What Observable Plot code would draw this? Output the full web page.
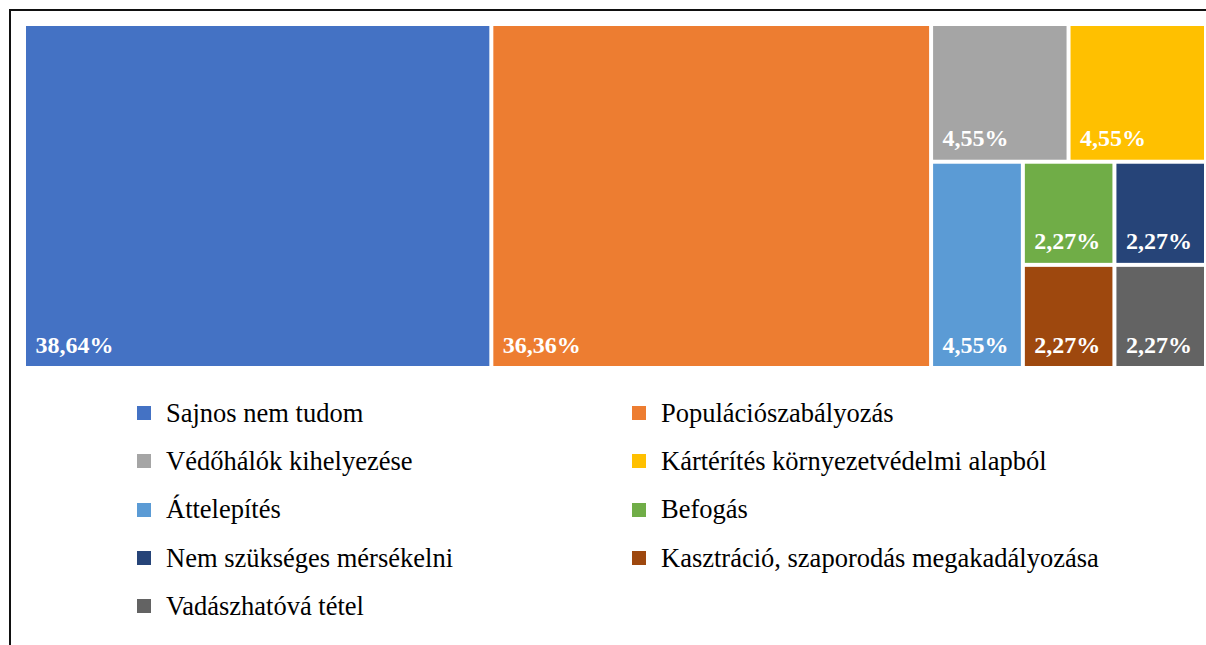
<!DOCTYPE html>
<html>
<head>
<meta charset="utf-8">
<script src="https://cdn.jsdelivr.net/npm/d3@7"></script>
<script src="https://cdn.jsdelivr.net/npm/@observablehq/plot@0.6"></script>
<style>
  html, body { margin: 0; padding: 0; background: #fff; }
  body { width: 1206px; height: 645px; position: relative; overflow: hidden; font-family: "Liberation Serif", "Times New Roman", serif; }
  #frame { position: absolute; left: 9px; top: 9px; width: 1400px; height: 800px; border-left: 2px solid #111; border-top: 2px solid #111; box-sizing: border-box; }
  #chart { position: absolute; left: 0; top: 0; }
  #chart svg text { font-family: "Liberation Serif", "Times New Roman", serif !important; }
  #legend { position: absolute; left: 137px; top: 389px; display: grid; grid-template-columns: 495px 495px; grid-auto-rows: 48.3px; }
  .item { display: flex; align-items: center; font-size: 26.5px; color: #000; white-space: nowrap; }
  .sw { width: 14px; height: 14px; margin-right: 15px; flex: none; }
</style>
</head>
<body>
<div id="frame"></div>
<div id="chart"></div>
<div id="legend"></div>
<script>
// Data
const categories = [
  "Sajnos nem tudom",
  "Populációszabályozás",
  "Védőhálók kihelyezése",
  "Kártérítés környezetvédelmi alapból",
  "Áttelepítés",
  "Befogás",
  "Nem szükséges mérsékelni",
  "Kasztráció, szaporodás megakadályozása",
  "Vadászhatóvá tétel"
];
const values = [38.64, 36.36, 4.55, 4.55, 4.55, 2.27, 2.27, 2.27, 2.27];
const colors = ["#4472C4", "#ED7D31", "#A5A5A5", "#FFC000", "#5B9BD5", "#70AD47", "#264478", "#9E480E", "#636363"];

const W = 1178, H = 340;

// squarified tiling (Excel-like preference)
function squarifyTile(ratio) {
  return function(parent, x0, y0, x1, y1) {
    const nodes = parent.children;
    let value = parent.value, i0 = 0, i1 = 0;
    const n = nodes.length;
    while (i0 < n) {
      const dx = x1 - x0, dy = y1 - y0;
      let sumValue;
      do sumValue = nodes[i1++].value; while (!sumValue && i1 < n);
      let minValue = sumValue, maxValue = sumValue;
      const alpha = Math.max(dy / dx, dx / dy) / (value * ratio);
      let beta = sumValue * sumValue * alpha;
      let minRatio = Math.max(maxValue / beta, beta / minValue);
      for (; i1 < n; ++i1) {
        const nodeValue = nodes[i1].value;
        sumValue += nodeValue;
        if (nodeValue < minValue) minValue = nodeValue;
        if (nodeValue > maxValue) maxValue = nodeValue;
        beta = sumValue * sumValue * alpha;
        const newRatio = Math.max(maxValue / beta, beta / minValue);
        if (newRatio > minRatio) { sumValue -= nodeValue; break; }
        minRatio = newRatio;
      }
      const row = {value: sumValue, children: nodes.slice(i0, i1)};
      if (dx < dy) d3.treemapDice(row, x0, y0, x1, value ? (y0 += dy * sumValue / value) : y1);
      else d3.treemapSlice(row, x0, y0, value ? (x0 += dx * sumValue / value) : x1, y1);
      value -= sumValue; i0 = i1;
    }
  };
}

const table = categories.map((c, i) => ({name: c, value: values[i], order: i}));
const root = d3.hierarchy({children: table})
  .sum(d => d.value || 0)
  .sort((a, b) => b.value - a.value || a.data.order - b.data.order);
d3.treemap().tile(squarifyTile(0.8)).size([W, H]).paddingInner(4)(root);
const leaves = root.leaves();

const fmt = v => v.toFixed(2).replace(".", ",") + "%";

const plot = Plot.plot({
  width: 1206,
  height: 380,
  marginLeft: 26,
  marginRight: 2,
  marginTop: 26,
  marginBottom: 14,
  x: {domain: [0, W], axis: null},
  y: {domain: [0, H], reverse: true, axis: null},
  color: {domain: categories, range: colors},
  style: {background: "transparent", overflow: "visible", fontFamily: "Liberation Serif, serif"},
  marks: [
    Plot.rect(leaves, {
      x1: d => d.x0, x2: d => d.x1, y1: d => d.y0, y2: d => d.y1,
      fill: d => d.data.name
    }),
    Plot.text(leaves, {
      x: d => d.x0, y: d => d.y1,
      text: d => fmt(d.data.value),
      textAnchor: "start", lineAnchor: "bottom",
      dx: 9, dy: -14,
      fill: "white", fontWeight: "bold", fontSize: 24,
      fontFamily: "Liberation Serif"
    })
  ]
});
document.getElementById("chart").appendChild(plot);

const legend = document.getElementById("legend");
categories.forEach((c, i) => {
  const item = document.createElement("div");
  item.className = "item";
  const sw = document.createElement("span");
  sw.className = "sw";
  sw.style.background = colors[i];
  const t = document.createElement("span");
  t.textContent = c;
  item.appendChild(sw);
  item.appendChild(t);
  legend.appendChild(item);
});
</script>
</body>
</html>
